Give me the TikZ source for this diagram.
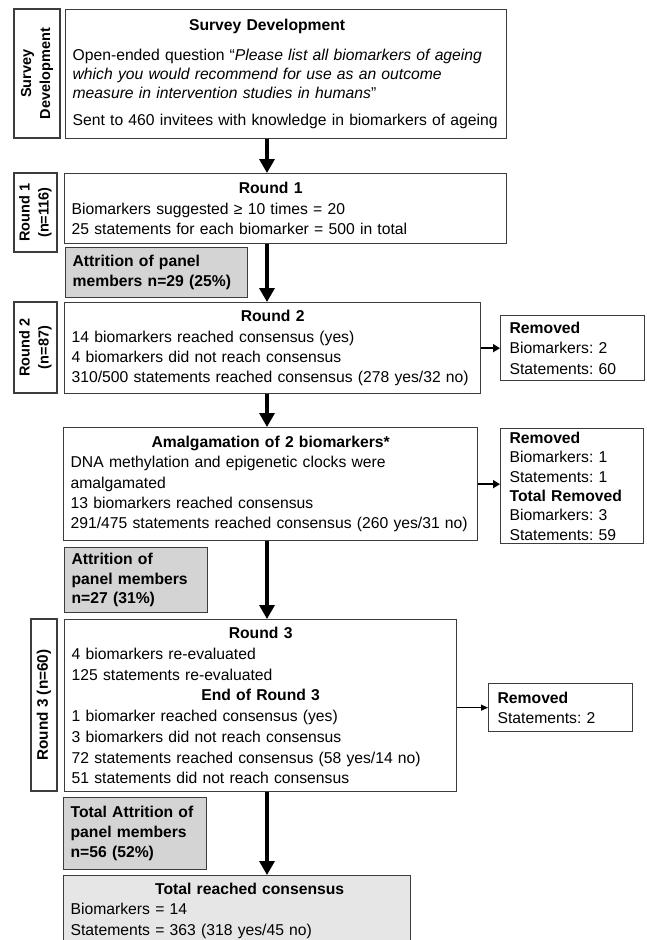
\documentclass[tikz,border=0pt]{standalone}
\usepackage{fontspec}
\setmainfont{Liberation Sans}
\usepackage{xcolor}
\usepackage{tikz}
\usetikzlibrary{arrows.meta,positioning,calc}

\definecolor{edgegray}{HTML}{3C3C3C}
\definecolor{attrgray}{HTML}{D4D4D4}
\definecolor{totalgray}{HTML}{E6E6E6}

\frenchspacing

% centred bold heading inside a left aligned box
\newcommand{\ttl}[2][0pt]{\leavevmode\hskip 0pt plus 1filll\textbf{#2}\hspace*{#1}\hskip 0pt plus 1filll\null}

\begin{document}
\begin{tikzpicture}[
    x=1pt, y=-1pt,
    font=\fontsize{15.7}{20.3}\selectfont,
    box/.style={rectangle, draw=edgegray, line width=1.3pt, anchor=north west, inner xsep=7pt, inner ysep=0pt, align=left},
    side/.style={rectangle, draw=edgegray, line width=1.1pt, rotate=90, align=center, inner sep=0pt, font=\fontsize{14.5}{19}\selectfont\bfseries},
    attr/.style={box, fill=attrgray, inner xsep=7pt, font=\fontsize{15.7}{19.5}\selectfont\bfseries},
    flow/.style={-{Triangle[width=15pt,length=14pt]}, line width=3.3pt},
    side arrow/.style={-{Triangle[width=8pt,length=7pt]}, line width=2.6pt},
    thin arrow/.style={-{Triangle[width=6pt,length=7pt]}, line width=1.2pt}
]
    \useasboundingbox (0,0) rectangle (646,940);

    % Survey development
    \node[side, minimum width=129pt, minimum height=46pt] (sdevside) at (37,73.5) {Survey\\Development};
    \node[box, text width=427pt, minimum height=129pt, font=\fontsize{15.7}{19}\selectfont] (sdev) at (65,9) {\ttl[38pt]{Survey Development}\\[11pt]%
        Open-ended question “\textit{Please list all biomarkers of ageing}\\%
        \textit{which you would recommend for use as an outcome}\\%
        \textit{measure in intervention studies in humans}”\\[8pt]%
        \mbox{Sent to 460 invitees with knowledge in biomarkers of ageing}};

    % Round 1
    \node[side, minimum width=79pt, minimum height=43pt] (r1side) at (35.5,212.5) {Round 1\\(n=116)};
    \node[box, text width=428pt, minimum height=70pt] (r1) at (64,173) {\ttl[30pt]{Round 1}\\%
        Biomarkers suggested ≥ 10 times = 20\\%
        25 statements for each biomarker = 500 in total};
    \node[attr, text width=168pt, minimum height=50pt] (att1) at (65,247) {Attrition of panel\\%
        \mbox{members n=29 (25\%)}};

    % Round 2
    \node[side, minimum width=91pt, minimum height=43pt] (r2side) at (35.5,347.5) {Round 2\\(n=87)};
    \node[box, text width=402pt, minimum height=91pt] (r2) at (64,302) {\ttl{Round 2}\\%
        14 biomarkers reached consensus (yes)\\%
        4 biomarkers did not reach consensus\\%
        \mbox{310/500 statements reached consensus (278 yes/32 no)}};
    \node[box, inner xsep=9pt, text width=126pt, minimum height=65pt] (rem1) at (500,315) {\textbf{Removed}\\%
        Biomarkers: 2\\%
        Statements: 60};

    % Amalgamation
    \node[box, text width=400pt, minimum height=113pt] (amal) at (63,427) {\ttl{Amalgamation of 2 biomarkers*}\\%
        DNA methylation and epigenetic clocks were\\%
        amalgamated\\%
        13 biomarkers reached consensus\\%
        \mbox{291/475 statements reached consensus (260 yes/31 no)}};
    \node[box, inner xsep=9pt, text width=125pt, minimum height=115pt, font=\fontsize{15.7}{19.3}\selectfont] (rem2) at (500,428) {\textbf{Removed}\\%
        Biomarkers: 1\\%
        Statements: 1\\%
        \textbf{Total Removed}\\%
        Biomarkers: 3\\%
        Statements: 59};
    \node[attr, text width=129pt, minimum height=65pt] (att2) at (64,547) {Attrition of\\panel members\\n=27 (31\%)};

    % Round 3
    \node[side, minimum width=172pt, minimum height=26pt, font=\fontsize{15.3}{19}\selectfont\bfseries] (r3side) at (44,705) {Round 3 (n=60)};
    \node[box, text width=378pt, minimum height=172pt, font=\fontsize{15.7}{20.7}\selectfont] (r3) at (64,619) {\ttl{Round 3}\\%
        4 biomarkers re-evaluated\\%
        125 statements re-evaluated\\%
        \ttl{End of Round 3}\\%
        1 biomarker reached consensus (yes)\\%
        3 biomarkers did not reach consensus\\%
        72 statements reached consensus (58 yes/14 no)\\%
        51 statements did not reach consensus};
    \node[box, inner xsep=9pt, text width=126pt, minimum height=48pt] (rem3) at (488,683) {\textbf{Removed}\\%
        Statements: 2};
    \node[attr, text width=129pt, minimum height=72pt, font=\fontsize{15.7}{20}\selectfont\bfseries] (att3) at (63,797) {\mbox{Total Attrition of}\\panel members\\n=56 (52\%)};

    % Result
    \node[box, fill=totalgray, text width=333pt, minimum height=70pt] (total) at (63,875) {\ttl[-25pt]{Total reached consensus}\\%
        Biomarkers = 14\\%
        Statements = 363 (318 yes/45 no)};

    % Arrows
    \coordinate (spine) at (267,0);
    \draw[flow] (sdev.south -| spine) -- (r1.north -| spine);
    \draw[flow] (r1.south -| spine) -- (r2.north -| spine);
    \draw[flow] (r2.south -| spine) -- (amal.north -| spine);
    \draw[flow] (amal.south -| spine) -- (r3.north -| spine);
    \draw[flow] (r3.south -| spine) -- (total.north -| spine);

    \draw[side arrow] (r2.east) -- (r2.east -| rem1.west);
    \draw[side arrow] (amal.east) -- (amal.east -| rem2.west);
    \draw[thin arrow] (rem3.west -| r3.east) -- (rem3.west);

\end{tikzpicture}
\end{document}
